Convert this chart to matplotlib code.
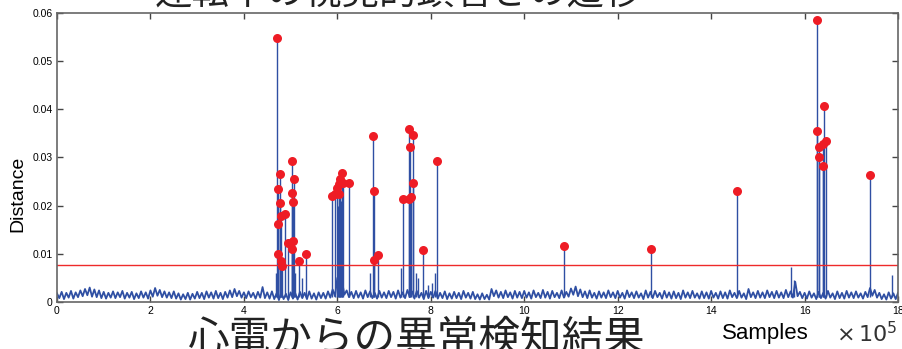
import numpy as np
import matplotlib.pyplot as plt

# baseline distance (x in units of 1e5 samples)
# upper readings at 0.0, 0.1, ... 18.0
base_hi = [
    0.0018, 0.0021, 0.0019, 0.0023, 0.0020, 0.0024, 0.0027, 0.0030, 0.0026, 0.0024,
    0.0021, 0.0019, 0.0022, 0.0020, 0.0023, 0.0019, 0.0021, 0.0018, 0.0022, 0.0020,
    0.0024, 0.0029, 0.0025, 0.0022, 0.0020, 0.0022, 0.0018, 0.0016, 0.0019, 0.0017,
    0.0021, 0.0019, 0.0022, 0.0020, 0.0023, 0.0019, 0.0021, 0.0024, 0.0027, 0.0023,
    0.0020, 0.0022, 0.0019, 0.0021, 0.0031, 0.0020, 0.0022, 0.0018, 0.0020, 0.0017,
    0.0020, 0.0018, 0.0021, 0.0019, 0.0022, 0.0018, 0.0020, 0.0019, 0.0022, 0.0026,
    0.0050, 0.0044, 0.0024, 0.0021, 0.0023, 0.0020, 0.0024, 0.0022, 0.0019, 0.0023,
    0.0020, 0.0023, 0.0021, 0.0024, 0.0020, 0.0025, 0.0022, 0.0023, 0.0019, 0.0023,
    0.0021, 0.0023, 0.0019, 0.0022, 0.0018, 0.0021, 0.0019, 0.0023, 0.0019, 0.0021,
    0.0016, 0.0018, 0.0015, 0.0027, 0.0024, 0.0021, 0.0024, 0.0020, 0.0023, 0.0021,
    0.0023, 0.0020, 0.0024, 0.0019, 0.0025, 0.0021, 0.0023, 0.0019, 0.0024, 0.0021,
    0.0028, 0.0032, 0.0026, 0.0022, 0.0024, 0.0019, 0.0022, 0.0020, 0.0024, 0.0020,
    0.0023, 0.0019, 0.0024, 0.0020, 0.0022, 0.0018, 0.0024, 0.0021, 0.0023, 0.0019,
    0.0023, 0.0020, 0.0022, 0.0019, 0.0024, 0.0020, 0.0023, 0.0018, 0.0022, 0.0020,
    0.0023, 0.0019, 0.0022, 0.0020, 0.0024, 0.0019, 0.0023, 0.0018, 0.0027, 0.0020,
    0.0023, 0.0020, 0.0024, 0.0021, 0.0023, 0.0020, 0.0025, 0.0022, 0.0042, 0.0021,
    0.0019, 0.0022, 0.0018, 0.0021, 0.0019, 0.0023, 0.0018, 0.0022, 0.0019, 0.0023,
    0.0020, 0.0022, 0.0018, 0.0021, 0.0029, 0.0025, 0.0019, 0.0016, 0.0020, 0.0018,
    0.0019,
]
# lower readings at 0.05, 0.15, ... 17.95
base_lo = [
    0.0008, 0.0006, 0.0009, 0.0007, 0.0010, 0.0012, 0.0014, 0.0011, 0.0010, 0.0008,
    0.0007, 0.0009, 0.0008, 0.0010, 0.0007, 0.0009, 0.0006, 0.0008, 0.0009, 0.0007,
    0.0011, 0.0013, 0.0010, 0.0009, 0.0008, 0.0007, 0.0005, 0.0006, 0.0005, 0.0007,
    0.0008, 0.0006, 0.0009, 0.0007, 0.0008, 0.0006, 0.0009, 0.0010, 0.0012, 0.0009,
    0.0008, 0.0010, 0.0007, 0.0009, 0.0008, 0.0007, 0.0006, 0.0004, 0.0006, 0.0004,
    0.0007, 0.0005, 0.0008, 0.0006, 0.0007, 0.0005, 0.0008, 0.0007, 0.0009, 0.0012,
    0.0030, 0.0015, 0.0010, 0.0008, 0.0009, 0.0007, 0.0010, 0.0008, 0.0007, 0.0009,
    0.0008, 0.0010, 0.0007, 0.0009, 0.0008, 0.0010, 0.0007, 0.0009, 0.0006, 0.0008,
    0.0009, 0.0007, 0.0008, 0.0006, 0.0007, 0.0008, 0.0006, 0.0009, 0.0007, 0.0006,
    0.0005, 0.0006, 0.0005, 0.0012, 0.0009, 0.0008, 0.0010, 0.0007, 0.0009, 0.0008,
    0.0009, 0.0007, 0.0010, 0.0008, 0.0009, 0.0007, 0.0010, 0.0008, 0.0009, 0.0011,
    0.0015, 0.0012, 0.0010, 0.0008, 0.0009, 0.0007, 0.0009, 0.0008, 0.0010, 0.0008,
    0.0009, 0.0007, 0.0010, 0.0008, 0.0009, 0.0006, 0.0009, 0.0008, 0.0010, 0.0007,
    0.0009, 0.0007, 0.0008, 0.0006, 0.0009, 0.0008, 0.0009, 0.0007, 0.0008, 0.0007,
    0.0009, 0.0007, 0.0008, 0.0007, 0.0010, 0.0008, 0.0009, 0.0006, 0.0010, 0.0008,
    0.0009, 0.0008, 0.0010, 0.0008, 0.0009, 0.0008, 0.0010, 0.0009, 0.0012, 0.0008,
    0.0007, 0.0009, 0.0006, 0.0008, 0.0007, 0.0009, 0.0006, 0.0008, 0.0007, 0.0009,
    0.0008, 0.0009, 0.0007, 0.0010, 0.0013, 0.0009, 0.0006, 0.0005, 0.0007, 0.0006,
]
hi_x = np.arange(len(base_hi)) / 10.0
lo_x = np.arange(len(base_lo)) / 10.0 + 0.05

# detected anomalies (red dots)
anom_x = [4.71, 4.72, 4.74, 4.74, 4.78, 4.78, 4.79, 4.80, 4.82, 4.89, 4.95,
          5.02, 5.02, 5.04, 5.06, 5.06, 5.07, 5.17, 5.34,
          5.88, 5.96, 6.00, 6.03, 6.04, 6.06, 6.09, 6.13, 6.24,
          6.77, 6.79, 6.79, 6.86,
          7.41, 7.53, 7.53, 7.56, 7.58, 7.63, 7.63, 7.83, 8.13,
          10.85, 12.71, 14.55,
          16.27, 16.27, 16.31, 16.31, 16.39, 16.40, 16.42, 16.45, 17.41]
anom_y = [0.0548, 0.0161, 0.0235, 0.0100, 0.0266, 0.0205, 0.0086, 0.0179, 0.0075, 0.0182, 0.0123,
          0.0293, 0.0226, 0.0109, 0.0207, 0.0127, 0.0255, 0.0086, 0.0100,
          0.0221, 0.0224, 0.0237, 0.0244, 0.0225, 0.0255, 0.0267, 0.0246, 0.0246,
          0.0345, 0.0230, 0.0087, 0.0098,
          0.0213, 0.0360, 0.0213, 0.0321, 0.0219, 0.0347, 0.0248, 0.0108, 0.0293,
          0.0116, 0.0111, 0.0230,
          0.0585, 0.0354, 0.0321, 0.0300, 0.0282, 0.0327, 0.0406, 0.0335, 0.0264]

# smaller spikes under the threshold
minor_x = [4.68, 5.10, 5.25, 6.02, 6.05, 6.08, 6.11, 6.70, 7.36, 7.68, 7.72,
           7.93, 8.02, 8.09, 15.72, 15.78, 17.87]
minor_y = [0.0060, 0.0060, 0.0050, 0.0200, 0.0220, 0.0210, 0.0190, 0.0060, 0.0070,
           0.0060, 0.0050, 0.0035, 0.0040, 0.0060, 0.0072, 0.0045, 0.0056]

threshold = 0.0077

x_ticks = [0, 2, 4, 6, 8, 10, 12, 14, 16, 18]
y_ticks = [0, 0.01, 0.02, 0.03, 0.04, 0.05, 0.06]
y_tick_labels = ['0', '0.01', '0.02', '0.03', '0.04', '0.05', '0.06']

blue = '#2f4fa3'
tick_font = ['Liberation Sans Narrow', 'Liberation Sans']
jp_font = ['Noto Sans CJK JP', 'DejaVu Sans']

# merge upper and lower readings into one trace
xs = np.concatenate([hi_x, lo_x])
ys = np.concatenate([base_hi, base_lo])
order = np.argsort(xs)

fig = plt.figure(figsize=(9.03, 3.49), dpi=100)
ax = fig.add_axes([0.0631, 0.1347, 0.9314, 0.8281])

ax.plot(xs[order], ys[order], color=blue, linewidth=1.3)
ax.vlines(minor_x, 0.001, minor_y, color=blue, linewidth=1.0)
ax.vlines(anom_x, 0.001, anom_y, color=blue, linewidth=1.0)
ax.axhline(threshold, color='#ee2a2a', linewidth=1.0)
ax.plot(anom_x, anom_y, 'o', color='#ee1c25', markersize=6.5, markeredgewidth=0)

ax.set_xlim(0, 18)
ax.set_ylim(0, 0.06)
ax.set_xticks(x_ticks)
ax.set_xticklabels([str(t) for t in x_ticks], family=tick_font, fontsize=7.5)
ax.set_yticks(y_ticks)
ax.set_yticklabels(y_tick_labels, family=tick_font, fontsize=7.5)
ax.tick_params(direction='in', length=4, width=1, top=True, right=True,
               color='#444444', pad=3)
for s in ax.spines.values():
    s.set_color('#666666')
    s.set_linewidth(1.2)

fig.text(0.02, 0.445, 'Distance', rotation=90, ha='center', va='center',
         family=['Liberation Sans'], fontsize=14)
fig.text(0.8, 0.045, 'Samples', ha='left', va='center',
         family=['Liberation Sans'], fontsize=16)
fig.text(0.926, 0.045, r'$\times\,10^5$', ha='left', va='center',
         fontsize=16, color='#333333')

# slide captions
fig.text(0.441, 1 - 5 / 349, '運転中の視覚的顕著さの遷移', ha='center',
         va='baseline', family=jp_font, fontsize=27, color='#222222')
fig.text(0.462, 1 - 318 / 349, '心電からの異常検知結果', ha='center', va='top',
         family=jp_font, fontsize=30, color='#222222')

plt.savefig('out.png', dpi=100)
